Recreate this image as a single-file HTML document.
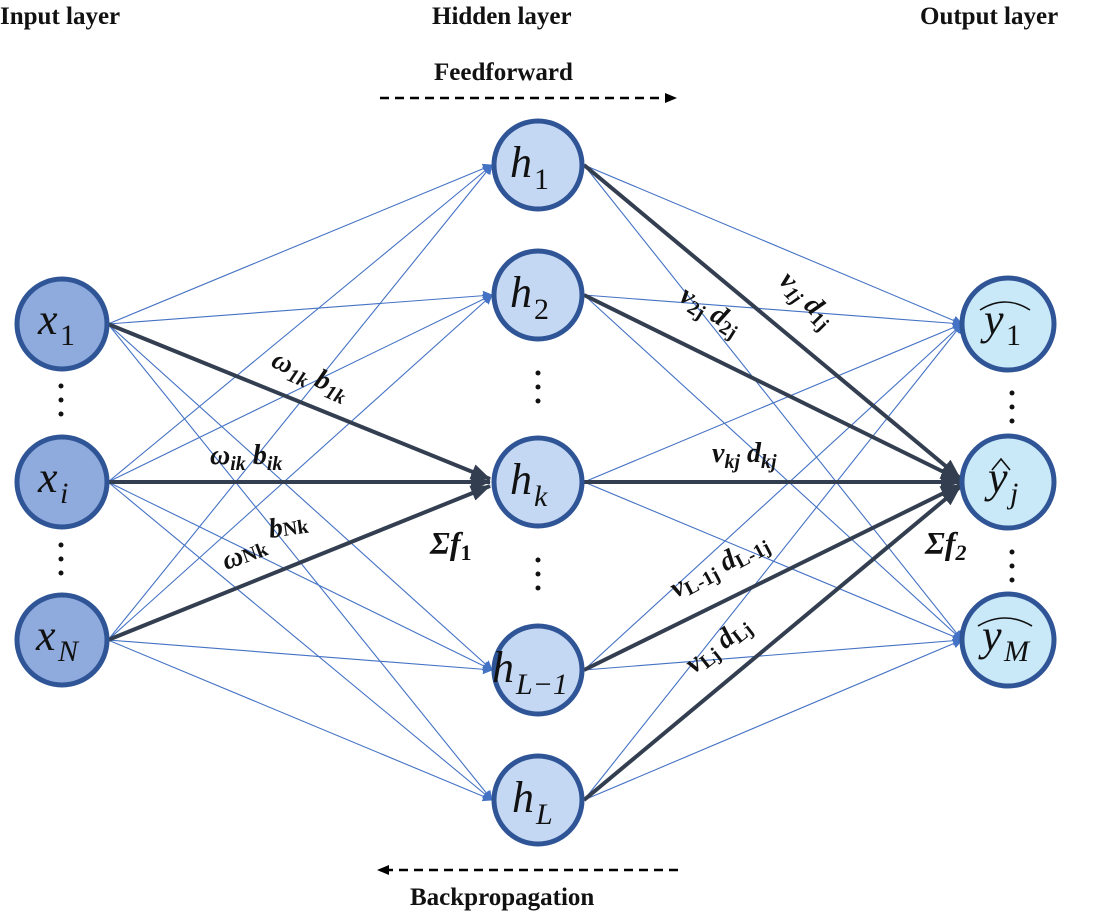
<!DOCTYPE html>
<html><head><meta charset="utf-8"><style>
html,body{margin:0;padding:0;background:#fff;}
svg{display:block;}
text{font-family:"Liberation Serif",serif;}
</style></head><body>
<svg width="1102" height="917" viewBox="0 0 1102 917" xmlns="http://www.w3.org/2000/svg">
<defs>
<marker id="ab" markerWidth="10" markerHeight="10" refX="9" refY="5" orient="auto" markerUnits="userSpaceOnUse"><path d="M0,0 L10,5 L0,10 Z" fill="#4472c4"/></marker>
<marker id="ad" markerWidth="20" markerHeight="16" refX="19" refY="8" orient="auto" markerUnits="userSpaceOnUse"><path d="M0,0 L20,8 L0,16 Z" fill="#333f50"/></marker>
<marker id="ak" markerWidth="12" markerHeight="10" refX="11" refY="5" orient="auto" markerUnits="userSpaceOnUse"><path d="M0,0 L12,5 L0,10 Z" fill="#000"/></marker>
</defs>
<g font-weight="bold" font-size="25" fill="#111">
<text x="0" y="24">Input layer</text>
<text x="432" y="24">Hidden layer</text>
<text x="920" y="24">Output layer</text>
<text x="434" y="80">Feedforward</text>
<text x="410" y="905">Backpropagation</text>
</g>
<line x1="380" y1="98" x2="676" y2="98" stroke="#000" stroke-width="2.5" stroke-dasharray="9,6" marker-end="url(#ak)"/>
<line x1="678" y1="870" x2="378" y2="870" stroke="#000" stroke-width="2.5" stroke-dasharray="9,6" marker-end="url(#ak)"/>
<g stroke="#4472c4" stroke-width="1.1" fill="none">
<line x1="108" y1="324" x2="492" y2="165" marker-end="url(#ab)"/>
<line x1="108" y1="324" x2="492" y2="295" marker-end="url(#ab)"/>
<line x1="108" y1="324" x2="492" y2="670" marker-end="url(#ab)"/>
<line x1="108" y1="324" x2="492" y2="800" marker-end="url(#ab)"/>
<line x1="108" y1="482" x2="492" y2="165" marker-end="url(#ab)"/>
<line x1="108" y1="482" x2="492" y2="295" marker-end="url(#ab)"/>
<line x1="108" y1="482" x2="492" y2="670" marker-end="url(#ab)"/>
<line x1="108" y1="482" x2="492" y2="800" marker-end="url(#ab)"/>
<line x1="108" y1="640" x2="492" y2="165" marker-end="url(#ab)"/>
<line x1="108" y1="640" x2="492" y2="295" marker-end="url(#ab)"/>
<line x1="108" y1="640" x2="492" y2="670" marker-end="url(#ab)"/>
<line x1="108" y1="640" x2="492" y2="800" marker-end="url(#ab)"/>
<line x1="584" y1="165" x2="962" y2="324" marker-end="url(#ab)"/>
<line x1="584" y1="165" x2="962" y2="640" marker-end="url(#ab)"/>
<line x1="584" y1="295" x2="962" y2="324" marker-end="url(#ab)"/>
<line x1="584" y1="295" x2="962" y2="640" marker-end="url(#ab)"/>
<line x1="584" y1="482" x2="962" y2="324" marker-end="url(#ab)"/>
<line x1="584" y1="482" x2="962" y2="640" marker-end="url(#ab)"/>
<line x1="584" y1="670" x2="962" y2="324" marker-end="url(#ab)"/>
<line x1="584" y1="670" x2="962" y2="640" marker-end="url(#ab)"/>
<line x1="584" y1="800" x2="962" y2="324" marker-end="url(#ab)"/>
<line x1="584" y1="800" x2="962" y2="640" marker-end="url(#ab)"/>
</g>
<g stroke="#333f50" stroke-width="4" fill="none">
<line x1="108" y1="324" x2="490" y2="479" marker-end="url(#ad)"/>
<line x1="108" y1="482" x2="490" y2="482" marker-end="url(#ad)"/>
<line x1="108" y1="640" x2="490" y2="486" marker-end="url(#ad)"/>
<line x1="584" y1="165" x2="960" y2="478" marker-end="url(#ad)"/>
<line x1="584" y1="295" x2="960" y2="480" marker-end="url(#ad)"/>
<line x1="584" y1="482" x2="960" y2="482" marker-end="url(#ad)"/>
<line x1="584" y1="670" x2="960" y2="485" marker-end="url(#ad)"/>
<line x1="584" y1="800" x2="960" y2="487" marker-end="url(#ad)"/>
</g>
<g stroke="#2f5597" stroke-width="5">
<circle cx="62" cy="324" r="45" fill="#8faadc"/>
<circle cx="62" cy="482" r="45" fill="#8faadc"/>
<circle cx="62" cy="640" r="45" fill="#8faadc"/>
<circle cx="538" cy="165" r="44" fill="#c5d8f3"/>
<circle cx="538" cy="295" r="44" fill="#c5d8f3"/>
<circle cx="538" cy="482" r="44" fill="#c5d8f3"/>
<circle cx="538" cy="670" r="44" fill="#c5d8f3"/>
<circle cx="538" cy="800" r="44" fill="#c5d8f3"/>
<circle cx="1008" cy="324" r="46" fill="#c9e8f8"/>
<circle cx="1008" cy="482" r="46" fill="#c9e8f8"/>
<circle cx="1008" cy="640" r="46" fill="#c9e8f8"/>
</g>
<g font-size="44" font-style="italic" fill="#111">
<text x="38" y="334">x</text><text x="60" y="345" font-style="normal" font-size="30">1</text>
<text x="38" y="492">x</text><text x="60" y="503" font-size="30">i</text>
<text x="36" y="650">x</text><text x="58" y="661" font-size="30">N</text>
<text x="510" y="177">h</text><text x="534" y="189" font-style="normal" font-size="30">1</text>
<text x="510" y="307">h</text><text x="534" y="319" font-style="normal" font-size="30">2</text>
<text x="510" y="494">h</text><text x="534" y="506" font-size="30">k</text>
<text x="492" y="682">h</text><text x="516" y="694" font-size="30">L−1</text>
<text x="512" y="812">h</text><text x="536" y="824" font-size="30">L</text>
<text x="984" y="334">y</text><text x="1006" y="345" font-style="normal" font-size="30">1</text>
<text x="988" y="492">y</text><text x="1010" y="503" font-size="30">j</text>
<text x="982" y="650">y</text><text x="1004" y="661" font-size="30">M</text>
</g>
<g stroke="#111" stroke-width="1.6" fill="none">
<path d="M980,310 Q1005,294 1030,310"/>
<path d="M992,470 L1001,459 L1010,470"/>
<path d="M978,626 Q1005,610 1032,626"/>
</g>
<g fill="#111">
<circle cx="61" cy="386" r="2.5"/><circle cx="61" cy="400" r="2.5"/><circle cx="61" cy="414" r="2.5"/>
<circle cx="61" cy="545" r="2.5"/><circle cx="61" cy="559" r="2.5"/><circle cx="61" cy="573" r="2.5"/>
<circle cx="538" cy="373" r="2.5"/><circle cx="538" cy="387" r="2.5"/><circle cx="538" cy="401" r="2.5"/>
<circle cx="538" cy="560" r="2.5"/><circle cx="538" cy="574" r="2.5"/><circle cx="538" cy="588" r="2.5"/>
<circle cx="1012" cy="393" r="2.5"/><circle cx="1012" cy="407" r="2.5"/><circle cx="1012" cy="421" r="2.5"/>
<circle cx="1012" cy="552" r="2.5"/><circle cx="1012" cy="566" r="2.5"/><circle cx="1012" cy="580" r="2.5"/>
</g>
<g font-weight="bold" font-style="italic" font-size="28" fill="#111">
<text transform="translate(270,366) rotate(24)">ω<tspan font-size="20" dy="6">1k</tspan><tspan dy="-6"> b</tspan><tspan font-size="20" dy="6">1k</tspan></text>
<text x="210" y="464">ω<tspan font-size="20" dy="6">ik</tspan><tspan dy="-6"> b</tspan><tspan font-size="20" dy="6">ik</tspan></text>
<text transform="translate(226,570) rotate(-20)">ω<tspan font-size="20" dy="0" font-style="normal">Nk</tspan></text>
<text transform="translate(270,538) rotate(-8)">b<tspan font-size="20" dy="0" font-style="normal">Nk</tspan></text>
<text x="430" y="554" font-size="32">Σf<tspan font-size="22" dy="6" font-style="normal">1</tspan></text>
<text x="925" y="554" font-size="32">Σf<tspan font-size="22" dy="6">2</tspan></text>
<text transform="translate(778,282) rotate(45)">v<tspan font-size="20" dy="5">1j</tspan><tspan dy="-5"> d</tspan><tspan font-size="20" dy="5" font-style="normal">1j</tspan></text>
<text transform="translate(678,300) rotate(32)">v<tspan font-size="20" dy="5" font-style="normal">2j</tspan><tspan dy="-5"> d</tspan><tspan font-size="20" dy="5" font-style="normal">2j</tspan></text>
<text x="712" y="462">v<tspan font-size="20" dy="6">kj</tspan><tspan dy="-6"> d</tspan><tspan font-size="20" dy="6">kj</tspan></text>
<text transform="translate(676,598) rotate(-28)">v<tspan font-size="20" dy="4" font-style="normal">L-1j</tspan><tspan dy="-4"> d</tspan><tspan font-size="20" dy="4" font-style="normal">L-1j</tspan></text>
<text transform="translate(694,674) rotate(-38)">v<tspan font-size="20" dy="4" font-style="normal">Lj</tspan><tspan dy="-4"> d</tspan><tspan font-size="20" dy="4" font-style="normal">Lj</tspan></text>
</g>
</svg>
</body></html>
